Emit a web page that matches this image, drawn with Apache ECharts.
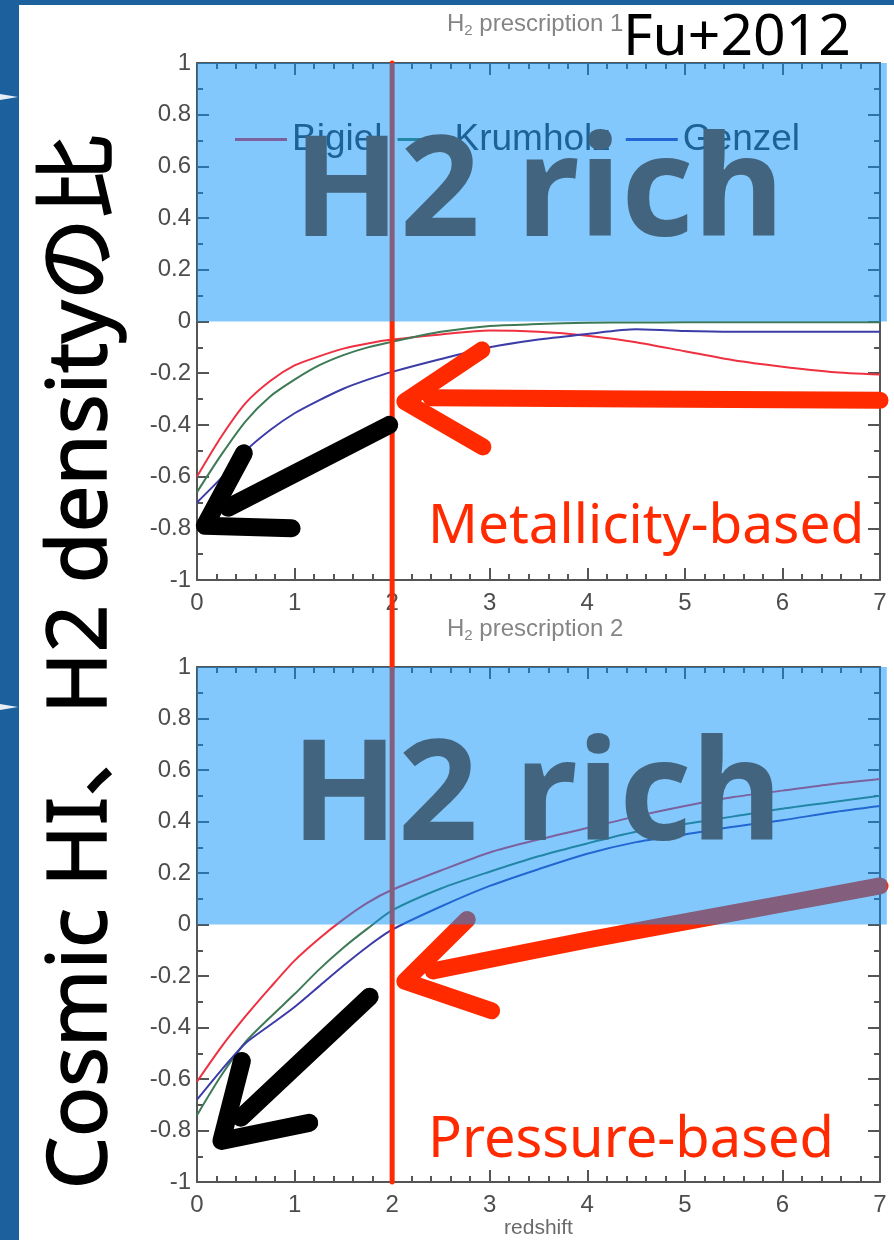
<!DOCTYPE html>
<html lang="ja">
<head>
<meta charset="UTF-8">
<title>H2 prescription</title>
<style>
  html, body { margin: 0; padding: 0; width: 894px; height: 1240px; overflow: hidden; }
  #main { width: 894px; height: 1240px; }
</style>
</head>
<body>
<div id="main"></div>
<script src="https://cdn.jsdelivr.net/npm/echarts@6/dist/echarts.min.js"></script>
<script>
// redshift grid the curves were read at
var redshift = [0, 0.25, 0.5, 0.75, 1, 1.25, 1.5, 1.75, 2, 2.5, 3, 3.5, 4, 4.5, 5, 5.5, 6, 6.5, 7];

// H2 prescription 1 (metallicity-based)
var metalBigiel   = [-0.60, -0.445, -0.315, -0.23, -0.17, -0.135, -0.105, -0.085, -0.07, -0.05, -0.035, -0.04, -0.055, -0.08, -0.115, -0.15, -0.175, -0.195, -0.205];
var metalKrumholz = [-0.66, -0.515, -0.385, -0.29, -0.225, -0.17, -0.13, -0.10, -0.078, -0.04, -0.017, -0.01, -0.005, -0.004, -0.003, -0.003, -0.003, -0.003, -0.003];
var metalGenzel   = [-0.70, -0.605, -0.50, -0.42, -0.355, -0.305, -0.26, -0.225, -0.195, -0.145, -0.10, -0.07, -0.048, -0.03, -0.037, -0.04, -0.04, -0.04, -0.04];

// H2 prescription 2 (pressure-based)
var pressBigiel   = [-0.61, -0.475, -0.355, -0.245, -0.14, -0.055, 0.02, 0.085, 0.135, 0.21, 0.28, 0.33, 0.375, 0.42, 0.46, 0.495, 0.52, 0.545, 0.565];
var pressKrumholz = [-0.74, -0.585, -0.455, -0.36, -0.27, -0.175, -0.09, -0.015, 0.055, 0.14, 0.205, 0.265, 0.315, 0.36, 0.39, 0.42, 0.45, 0.475, 0.50];
var pressGenzel   = [-0.68, -0.565, -0.46, -0.39, -0.32, -0.24, -0.16, -0.085, -0.02, 0.07, 0.15, 0.215, 0.275, 0.32, 0.35, 0.38, 0.405, 0.435, 0.46];

var seriesNames = ['Bigiel', 'Krumholz', 'Genzel'];
var seriesColors = ['#ee3040', '#3d7a55', '#3c3ca8'];

// "H2 rich" band: [x0, y0, x1, y1]
var richBand = [0, 0, 7.07, 1];
// z = 2 marker line, top panel runs down through the gap
var markZTop = [[2, 1], [2, -1.34]];
var markZBottom = [[2, 1], [2, -1]];

// hand drawn arrows, in data coordinates
var metalRedShaft  = [[7, -0.305], [4.5, -0.30], [2.4, -0.295]];
var metalRedHead   = [[2.92, -0.11], [2.13, -0.31], [2.93, -0.485]];
var metalBlackShaft = [[1.97, -0.40], [0.32, -0.72]];
var metalBlackHead  = [[0.48, -0.51], [0.08, -0.79], [0.97, -0.80]];
var pressRedShaft  = [[7, 0.15], [5.5, 0.045], [4, -0.06], [2.42, -0.18]];
var pressRedHead   = [[2.77, 0.02], [2.13, -0.22], [3.02, -0.335]];
var pressBlackShaft = [[1.77, -0.28], [0.45, -0.75]];
var pressBlackHead  = [[0.46, -0.53], [0.25, -0.84], [1.15, -0.77]];

function pairs(ys) {
    return redshift.map(function (z, i) { return [z, ys[i]]; });
}

var labelFont = 'Liberation Sans';
var axisColor = '#555';

function xAxisFor(grid, pos, showLabel) {
    return {
        gridIndex: grid, position: pos, type: 'value', min: 0, max: 7, interval: 1,
        axisLine: { show: true, onZero: false, lineStyle: { color: axisColor, width: 2 } },
        axisTick: { show: true, inside: true, length: 12, lineStyle: { color: axisColor, width: 2 } },
        minorTick: { show: true, splitNumber: 5, length: 6, lineStyle: { color: axisColor, width: 2 } },
        axisLabel: { show: showLabel, margin: 11, color: '#4d4d4d', fontSize: 24, fontFamily: labelFont },
        splitLine: { show: false }
    };
}
function yAxisFor(grid, pos, showLabel) {
    return {
        gridIndex: grid, position: pos, type: 'value', min: -1, max: 1, interval: 0.2,
        axisLine: { show: true, onZero: false, lineStyle: { color: axisColor, width: 2 } },
        axisTick: { show: true, inside: true, length: 12, lineStyle: { color: axisColor, width: 2 } },
        minorTick: { show: true, splitNumber: 2, length: 6, lineStyle: { color: axisColor, width: 2 } },
        axisLabel: { show: showLabel, margin: 6, color: '#4d4d4d', fontSize: 24, fontFamily: labelFont },
        splitLine: { show: false }
    };
}

function curve(name, ys, color, xi, yi) {
    return {
        name: name, type: 'line', xAxisIndex: xi, yAxisIndex: yi,
        data: pairs(ys), smooth: 0.25,
        symbol: 'none', z: 2, silent: true,
        lineStyle: { color: color, width: 2 },
        itemStyle: { color: color }
    };
}
function stroke(data, color, width, xi, yi, smooth) {
    return {
        type: 'line', xAxisIndex: xi, yAxisIndex: yi, data: data,
        symbol: 'none', z: 3, silent: true, clip: false, smooth: smooth ? 0.3 : false,
        lineStyle: { color: color, width: width, cap: 'round', join: 'round' }
    };
}
function band(xi, yi) {
    return {
        type: 'custom', xAxisIndex: xi, yAxisIndex: yi, z: 6, silent: true, clip: false,
        data: [richBand],
        encode: { x: [0, 2], y: [1, 3] },
        renderItem: function (params, api) {
            var p0 = api.coord([api.value(0), api.value(3)]);
            var p1 = api.coord([api.value(2), api.value(1)]);
            return {
                type: 'rect',
                shape: { x: p0[0], y: p0[1], width: p1[0] - p0[0], height: p1[1] - p0[1] },
                style: { fill: 'rgba(8,146,250,0.5)' }
            };
        }
    };
}

var subRich = {
    a: { fontSize: 24, fontWeight: 'normal', color: '#858585', fontFamily: labelFont },
    s: { fontSize: 15, fontWeight: 'normal', color: '#858585', fontFamily: labelFont, padding: [12, 0, 0, 0] }
};

var myChart = echarts.init(document.getElementById('main'));
myChart.setOption({
    backgroundColor: '#1d609e',
    animation: false,
    title: [
        { text: '{a|H}{s|2}{a| prescription 1}', left: 442, top: 6, textStyle: { fontWeight: 'normal', rich: subRich } },
        { text: '{a|H}{s|2}{a| prescription 2}', left: 442, top: 611, textStyle: { fontWeight: 'normal', rich: subRich } }
    ],
    legend: {
        data: seriesNames, left: 235, top: 121, padding: 0, z: 4,
        icon: 'rect', itemWidth: 52, itemHeight: 3, itemGap: 15,
        textStyle: { fontSize: 37, color: '#333', fontFamily: labelFont }
    },
    grid: [
        { left: 197, top: 63, width: 683, height: 517 },
        { left: 197, top: 667, width: 683, height: 516 }
    ],
    xAxis: [
        xAxisFor(0, 'bottom', true),
        xAxisFor(0, 'top', false),
        Object.assign(xAxisFor(1, 'bottom', true), {
            name: 'redshift', nameLocation: 'middle', nameGap: 34,
            nameTextStyle: { fontSize: 21, color: '#6a6a6a', fontFamily: labelFont }
        }),
        xAxisFor(1, 'top', false)
    ],
    yAxis: [
        yAxisFor(0, 'left', true),
        yAxisFor(0, 'right', false),
        yAxisFor(1, 'left', true),
        yAxisFor(1, 'right', false)
    ],
    graphic: [
        { type: 'rect', z: -10, silent: true, shape: { x: 19, y: 5, width: 875, height: 1235 }, style: { fill: '#ffffff' } },
        { type: 'polygon', z: -10, silent: true, shape: { points: [[0, 94], [18, 97], [0, 100]] }, style: { fill: '#e8eef5' } },
        { type: 'polygon', z: -10, silent: true, shape: { points: [[0, 704], [18, 707], [0, 710]] }, style: { fill: '#e8eef5' } },
        { type: 'text', z: 10, silent: true, x: 293, y: 196,
          style: { text: 'H2 rich', fill: '#43647e', font: 'bold 140px "Noto Sans"', verticalAlign: 'middle' } },
        { type: 'text', z: 10, silent: true, x: 291, y: 800,
          style: { text: 'H2 rich', fill: '#43647e', font: 'bold 140px "Noto Sans"', verticalAlign: 'middle' } },
        { type: 'text', z: 10, silent: true, x: 428, y: 527,
          style: { text: 'Metallicity-based', fill: '#ff2a00', font: '55px "Noto Sans"', verticalAlign: 'middle' } },
        { type: 'text', z: 10, silent: true, x: 428, y: 1141,
          style: { text: 'Pressure-based', fill: '#ff2a00', font: '56px "Noto Sans"', verticalAlign: 'middle' } },
        { type: 'text', z: 10, silent: true, x: 623, y: 39,
          style: { text: 'Fu+2012', fill: '#000', font: '57px "Noto Sans"', verticalAlign: 'middle' } },
        { type: 'text', z: 10, silent: true, x: 82, y: 662, rotation: Math.PI / 2,
          style: { text: 'Cosmic HI、H2 densityの比', fill: '#000', font: '83px "Noto Sans", "Noto Sans CJK JP"',
                   align: 'center', verticalAlign: 'middle', stroke: '#000', lineWidth: 1.5 } }
    ],
    series: [
        curve('Bigiel', metalBigiel, seriesColors[0], 0, 0),
        curve('Krumholz', metalKrumholz, seriesColors[1], 0, 0),
        curve('Genzel', metalGenzel, seriesColors[2], 0, 0),
        curve('Bigiel', pressBigiel, seriesColors[0], 2, 2),
        curve('Krumholz', pressKrumholz, seriesColors[1], 2, 2),
        curve('Genzel', pressGenzel, seriesColors[2], 2, 2),

        stroke(markZTop, '#ff2a00', 5, 0, 0),
        stroke(markZBottom, '#ff2a00', 5, 2, 2),

        stroke(metalRedShaft, '#ff2a00', 17, 0, 0),
        stroke(metalRedHead, '#ff2a00', 17, 0, 0),
        stroke(metalBlackShaft, '#000', 18, 0, 0),
        stroke(metalBlackHead, '#000', 18, 0, 0),
        stroke(pressRedShaft, '#ff2a00', 17, 2, 2, true),
        stroke(pressRedHead, '#ff2a00', 17, 2, 2),
        stroke(pressBlackShaft, '#000', 18, 2, 2),
        stroke(pressBlackHead, '#000', 18, 2, 2),

        band(0, 0),
        band(2, 2)
    ]
});
</script>
</body>
</html>
